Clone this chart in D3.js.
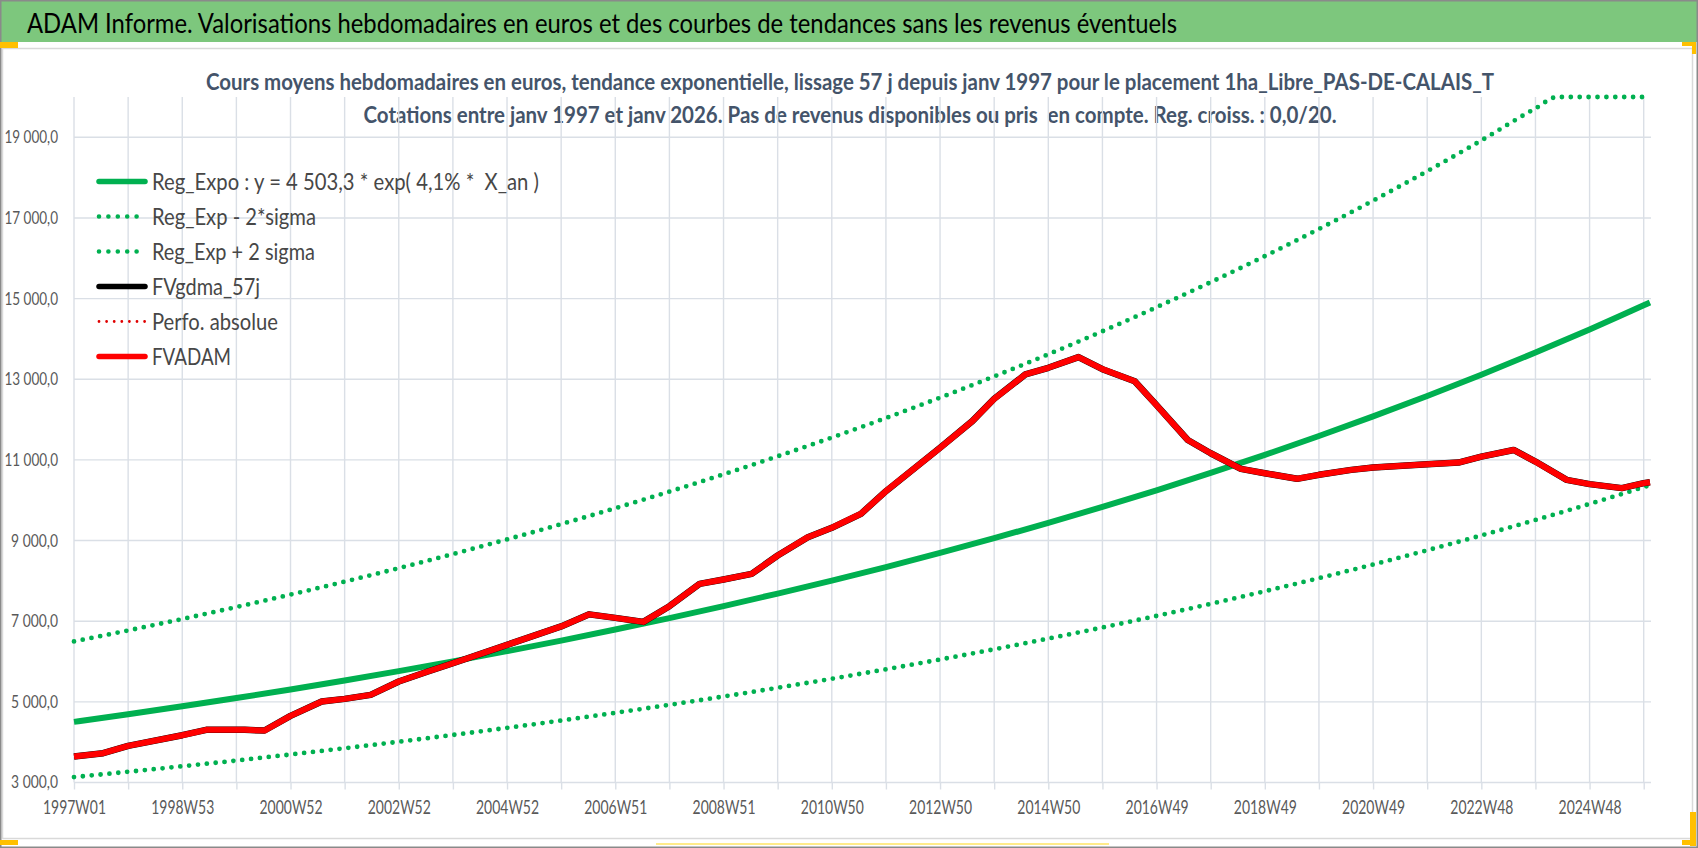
<!DOCTYPE html>
<html>
<head>
<meta charset="utf-8">
<script src="https://cdn.jsdelivr.net/npm/d3@7"></script>
<style>
  body { margin: 0; background: #fff; }
  text { font-family: Lato, "Open Sans", "Noto Sans", sans-serif; }
</style>
</head>
<body>
<div id="chart"></div>
<script>
// week index from 1997W01 (0) to the last quote, one tick each 52 weeks
let tickWeeks = [0, 52, 104, 156, 208, 260, 312, 364, 416, 468, 520, 572, 624, 676, 728,
  780, 832, 884, 936, 988, 1040, 1092, 1144, 1196, 1248, 1300, 1352, 1404, 1456, 1508];
let xLabels = ["1997W01", "1998W53", "2000W52", "2002W52", "2004W52", "2006W51", "2008W51",
  "2010W50", "2012W50", "2014W50", "2016W49", "2018W49", "2020W49", "2022W48", "2024W48"];
let yTicks = [3000, 5000, 7000, 9000, 11000, 13000, 15000, 17000, 19000];

// trend curves, read once a year
let trendWeeks = [0, 52, 104, 156, 208, 260, 312, 364, 416, 468, 520, 572, 624, 676, 728,
  780, 832, 884, 936, 988, 1040, 1092, 1144, 1196, 1248, 1300, 1352, 1404, 1456, 1508, 1514];
let regExpo = [4503, 4692, 4889, 5094, 5308, 5531, 5763, 6005, 6257, 6519, 6793, 7078, 7375, 7685, 8007,
  8343, 8693, 9058, 9438, 9834, 10247, 10677, 11125, 11592, 12078, 12585, 13113, 13664, 14237, 14835, 14903];
let regMinus = [3134, 3266, 3403, 3545, 3694, 3850, 4011, 4179, 4355, 4537, 4728, 4926, 5133, 5349, 5573,
  5807, 6050, 6304, 6569, 6844, 7132, 7431, 7743, 8068, 8406, 8759, 9127, 9510, 9909, 10325, 10374];
let plusWeeks = [0, 52, 104, 156, 208, 260, 312, 364, 416, 468, 520, 572, 624, 676, 728,
  780, 832, 884, 936, 988, 1040, 1092, 1144, 1196, 1248, 1300, 1352, 1404, 1425, 1456, 1508, 1514];
let regPlus = [6498, 6771, 7055, 7351, 7660, 7981, 8316, 8665, 9029, 9407, 9802, 10214, 10642, 11090, 11554,
  12039, 12544, 13071, 13619, 14190, 14786, 15407, 16053, 16727, 17429, 18160, 18922, 19717, 20000, 20000, 20000, 20000];

// FVADAM (and FVgdma_57j, which lies on it)
let adamWeeks = [0, 28, 52, 104, 127, 164, 183, 208, 238, 260, 285, 312, 340, 364, 416, 468, 495, 520,
  547, 572, 601, 624, 651, 676, 705, 728, 756, 780, 832, 863, 884, 914, 936, 965, 988, 1019, 1040,
  1070, 1092, 1121, 1144, 1175, 1196, 1227, 1248, 1300, 1330, 1352, 1383, 1404, 1434, 1456, 1487, 1508, 1514];
let adamValues = [3645, 3727, 3909, 4173, 4306, 4306, 4289, 4652, 5008, 5074, 5173, 5504, 5752, 5958, 6413,
  6870, 7170, 7083, 6983, 7372, 7926, 8034, 8174, 8629, 9084, 9316, 9663, 10225, 11300, 11962, 12516,
  13120, 13285, 13550, 13250, 12950, 12358, 11494, 11165, 10778, 10671, 10531, 10630, 10753, 10811,
  10893, 10934, 11082, 11247, 10959, 10506, 10399, 10300, 10424, 10448];
let gdmaValues = adamValues;

let legendLabels = ["Reg_Expo : y = 4 503,3 * exp( 4,1% *  X_an )", "Reg_Exp - 2*sigma",
  "Reg_Exp + 2 sigma", "FVgdma_57j", "Perfo. absolue", "FVADAM"];

let titleText = "ADAM Informe. Valorisations hebdomadaires en euros et des courbes de tendances sans les revenus éventuels";
let subTitle1 = "Cours moyens hebdomadaires en euros, tendance exponentielle, lissage 57 j depuis janv 1997 pour le placement 1ha_Libre_PAS-DE-CALAIS_T";
let subTitle2 = "Cotations entre janv 1997 et janv 2026. Pas de revenus disponibles ou pris  en compte. Reg. croiss. : 0,0/20.";

let green = "#00B050";
let gridColor = "#DADFE6";
let svg;

function init() {
  svg = d3
    .select("#chart")
    .append("svg")
    .attr("width", 1698)
    .attr("height", 848);
  draw();
}

function draw() {
  let x = d3.scaleLinear().domain([0, 1515]).range([74, 1651]);
  let y = d3.scaleLinear().domain([3000, 20000]).range([782.5, 97]);
  let fr = d3.formatLocale({ decimal: ",", thousands: " ", grouping: [3] });
  let fmt = fr.format(",.1f");

  // frame and title bar
  svg.append("rect").attr("x", 0).attr("y", 0).attr("width", 1698).attr("height", 848).style("fill", "#fff");
  svg.append("rect").attr("x", 0).attr("y", 0).attr("width", 1698).attr("height", 42).style("fill", "#7DC77D");
  svg.append("rect")
    .attr("x", 2.5).attr("y", 48.5).attr("width", 1690).attr("height", 790)
    .style("fill", "none").style("stroke", "#D9D9D9").style("stroke-width", 1.5);
  svg.append("rect")
    .attr("x", 0.75).attr("y", 0.75).attr("width", 1696.5).attr("height", 846.5)
    .style("fill", "none").style("stroke", "#8A8A8A").style("stroke-width", 1.5);

  // selection handles
  let handles = [[0, 42, 18, 6], [1682, 42, 14, 4], [1692, 42, 4, 12], [0, 840, 18, 5],
    [1690, 812, 6, 34], [1682, 840, 14, 5]];
  svg.selectAll(".handle").data(handles).enter().append("rect")
    .attr("class", "handle")
    .attr("x", d => d[0]).attr("y", d => d[1]).attr("width", d => d[2]).attr("height", d => d[3])
    .style("fill", "#FFC000");
  svg.append("rect").attr("x", 656).attr("y", 843).attr("width", 453).attr("height", 2).style("fill", "#FFEB8A");

  svg.append("text")
    .attr("x", 27).attr("y", 33)
    .attr("textLength", 1150).attr("lengthAdjust", "spacingAndGlyphs")
    .style("font-size", "26px").style("fill", "#000")
    .text(titleText);

  svg.append("text")
    .attr("x", 850).attr("y", 90).attr("text-anchor", "middle")
    .attr("textLength", 1288).attr("lengthAdjust", "spacingAndGlyphs")
    .style("font-size", "23px").style("font-weight", "bold").style("fill", "#44546A")
    .text(subTitle1);
  svg.append("text")
    .attr("x", 850).attr("y", 123).attr("text-anchor", "middle")
    .attr("textLength", 973).attr("lengthAdjust", "spacingAndGlyphs")
    .style("font-size", "23px").style("font-weight", "bold").style("fill", "#44546A")
    .style("white-space", "pre")
    .text(subTitle2);

  // grid
  svg.selectAll(".hgrid").data(yTicks).enter().append("line")
    .attr("class", "hgrid")
    .attr("x1", x(0)).attr("x2", x(1515))
    .attr("y1", d => y(d)).attr("y2", d => y(d))
    .style("stroke", gridColor).style("stroke-width", 1.4);

  let xAxis = svg.append("g")
    .attr("transform", "translate(0," + y(3000) + ")")
    .call(d3.axisBottom(x).tickValues(tickWeeks).tickSize(7).tickPadding(11)
      .tickFormat((d, i) => (i % 2 == 0 ? xLabels[i / 2] : "")));
  xAxis.select(".domain").remove();
  xAxis.selectAll(".tick line").style("stroke", gridColor).style("stroke-width", 1.4);
  xAxis.selectAll(".tick text")
    .filter((d, i) => i % 2 == 0)
    .attr("textLength", 63).attr("lengthAdjust", "spacingAndGlyphs")
    .style("font-size", "19px").style("fill", "#595959")
    .style("font-family", null);

  svg.selectAll(".vgrid").data(tickWeeks).enter().append("line")
    .attr("class", "vgrid")
    .attr("x1", d => x(d)).attr("x2", d => x(d))
    .attr("y1", y(20000)).attr("y2", y(3000))
    .style("stroke", gridColor).style("stroke-width", 1.4);

  let yAxis = svg.append("g")
    .attr("transform", "translate(58,0)")
    .call(d3.axisLeft(y).tickValues(yTicks).tickSize(0).tickPadding(0).tickFormat(fmt));
  yAxis.select(".domain").remove();
  yAxis.selectAll(".tick text")
    .attr("textLength", d => fmt(d).length * 6.7).attr("lengthAdjust", "spacingAndGlyphs")
    .style("font-size", "17px").style("fill", "#595959")
    .style("font-family", null);

  // series
  let curve = d3.line().x(d => x(d[0])).y(d => y(d[1])).curve(d3.curveMonotoneX);
  let poly = d3.line().x(d => x(d[0])).y(d => y(d[1]));

  svg.append("path").datum(d3.zip(trendWeeks, regExpo)).attr("d", curve)
    .style("fill", "none").style("stroke", green).style("stroke-width", 6);
  svg.append("path").datum(d3.zip(trendWeeks, regMinus)).attr("d", curve)
    .style("fill", "none").style("stroke", green).style("stroke-width", 4.8)
    .style("stroke-linecap", "round").style("stroke-dasharray", "0 8.9");
  svg.append("path").datum(d3.zip(plusWeeks, regPlus)).attr("d", curve)
    .style("fill", "none").style("stroke", green).style("stroke-width", 4.8)
    .style("stroke-linecap", "round").style("stroke-dasharray", "0 8.9");
  svg.append("path").datum(d3.zip(adamWeeks, gdmaValues)).attr("d", poly)
    .style("fill", "none").style("stroke", "#000").style("stroke-width", 6.5)
    .style("stroke-linejoin", "round");
  svg.append("path").datum(d3.zip(adamWeeks, adamValues)).attr("d", poly)
    .style("fill", "none").style("stroke", "#FF0000").style("stroke-width", 6)
    .style("stroke-linejoin", "round");

  // legend
  let legendStyles = [
    { color: green, width: 5.5, dash: null },
    { color: green, width: 4.6, dash: "0 9.4" },
    { color: green, width: 4.6, dash: "0 9.4" },
    { color: "#000", width: 5.5, dash: null },
    { color: "#E00000", width: 2.8, dash: "0 7.6" },
    { color: "#FF0000", width: 5.5, dash: null },
  ];
  let legendTextWidths = [387, 164, 163, 108, 126, 79];
  let legend = svg.selectAll(".legend").data(legendLabels).enter().append("g")
    .attr("class", "legend")
    .attr("transform", (d, i) => "translate(0," + (181.5 + i * 35) + ")");
  legend.append("line")
    .attr("x1", 99).attr("x2", 145).attr("y1", 0).attr("y2", 0)
    .style("stroke", (d, i) => legendStyles[i].color)
    .style("stroke-width", (d, i) => legendStyles[i].width)
    .style("stroke-linecap", "round")
    .style("stroke-dasharray", (d, i) => legendStyles[i].dash);
  legend.append("text")
    .attr("x", 152).attr("y", 8.5)
    .attr("textLength", (d, i) => legendTextWidths[i]).attr("lengthAdjust", "spacingAndGlyphs")
    .style("font-size", "23px").style("fill", "#474747").style("white-space", "pre")
    .text(d => d);
}

init();
</script>
</body>
</html>
